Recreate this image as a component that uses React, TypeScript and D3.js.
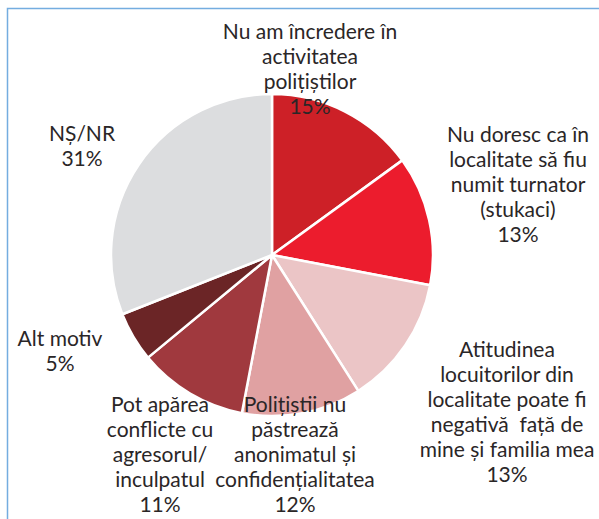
import React, { useEffect, useRef } from "react";
import * as d3 from "d3";

// slices, clockwise from 12 o'clock
const categories = [
  ["Nu am încredere în", "activitatea", "polițiștilor"],
  ["Nu doresc ca în", "localitate să fiu", "numit turnator", "(stukaci)"],
  ["Atitudinea", "locuitorilor din", "localitate poate fi", "negativă  față de", "mine și familia mea"],
  ["Polițiștii nu", "păstrează", "anonimatul și", "confidențialitatea"],
  ["Pot apărea", "conflicte cu", "agresorul/", "inculpatul"],
  ["Alt motiv"],
  ["NȘ/NR"],
];
const values = [15, 13, 13, 12, 11, 5, 31];
const colors = ["#cd2027", "#ec1c2d", "#ebc5c6", "#e0a1a2", "#a0393e", "#6b2526", "#dcdddf"];

// where each label block sits (centre x, first-line y) relative to pie centre
const labelSpots: [number, number][] = [
  [38, -225],
  [246, -122],
  [235, 93],
  [23, 148],
  [-112, 148],
  [-212, 82],
  [-190, -123],
];

const W = 599;
const H = 519;
const cx = 272;
const cy = 255;
const R = 161;
const lineH = 25;

const App: React.FC = () => {
  const svgRef = useRef<SVGSVGElement | null>(null);

  useEffect(() => {
    const svg = d3.select(svgRef.current);
    svg.selectAll("*").remove();

    svg
      .append("rect")
      .attr("x", 7.5)
      .attr("y", 8.5)
      .attr("width", W + 20)
      .attr("height", H + 20)
      .attr("fill", "none")
      .attr("stroke", "#74ade0")
      .attr("stroke-width", 1.5);

    const pie = d3
      .pie<number>()
      .sort(null)
      .value((d) => d);
    const arc = d3.arc<d3.PieArcDatum<number>>().innerRadius(0).outerRadius(R);

    const g = svg.append("g").attr("transform", `translate(${cx},${cy})`);

    g.selectAll("path")
      .data(pie(values))
      .join("path")
      .attr("d", arc)
      .attr("fill", (_, i) => colors[i])
      .attr("stroke", "#fff")
      .attr("stroke-width", 2.5)
      .attr("stroke-linejoin", "round");

    const labels = g
      .selectAll("text.lbl")
      .data(pie(values))
      .join("text")
      .attr("class", "lbl")
      .attr("text-anchor", "middle")
      .attr("font-family", "Lato, 'Open Sans', sans-serif")
      .attr("font-size", 21)
      .attr("fill", "#2a2627");

    labels.each(function (d, i) {
      const t = d3.select(this);
      const [lx, ly] = labelSpots[i];
      const lines = [...categories[i], `${d.data}%`];
      lines.forEach((ln, k) => {
        t.append("tspan")
          .attr("x", lx)
          .attr("y", ly + k * lineH)
          .attr("dominant-baseline", "central")
          .attr("xml:space", "preserve")
          .text(ln);
      });
    });
  }, []);

  return (
    <div style={{ position: "absolute", left: 0, top: 0 }}>
      <svg ref={svgRef} width={W} height={H} style={{ display: "block", background: "#fff" }} />
    </div>
  );
};

export default App;
